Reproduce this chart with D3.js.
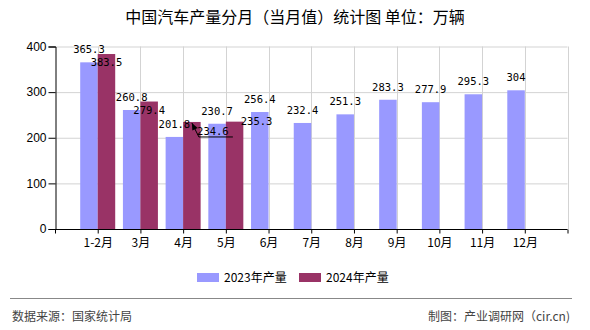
<!DOCTYPE html>
<html><head><meta charset="utf-8">
<script src="https://cdn.jsdelivr.net/npm/d3@7"></script>
<style>body{margin:0;background:#fff}</style>
</head><body>
<svg id="c" width="590" height="330"></svg>
<script>
const categories = ["1-2月","3月","4月","5月","6月","7月","8月","9月","10月","11月","12月"];
const values2023 = [365.3,260.8,201.8,230.7,256.4,232.4,251.3,283.3,277.9,295.3,304];
const values2024 = [383.5,279.4,234.6,235.3];
const yTicks = [0,100,200,300,400];
const seriesNames = ["2023年产量","2024年产量"];

const colors = ["#9999ff","#993366"];
// label layout offsets for 2024 series [dx, dy from bar top to baseline]
const label2024Offsets = [[0,12],[0,12],[21,13],[22,3]];

const svg = d3.select("#c");
const cjk = "'Noto Sans CJK SC','Noto Sans',sans-serif";
const mono = "'DejaVu Sans Mono','Liberation Mono',monospace";

const x = d3.scaleLinear().domain([0,12]).range([55,567.5]);
const y = d3.scaleLinear().domain([0,400]).range([229,46.5]);
const bw = 17.5;

// title
svg.append("text").attr("x",295).attr("y",23).attr("text-anchor","middle")
  .attr("font-family",cjk).attr("font-size",16).attr("fill","#000").text("中国汽车产量分月（当月值）统计图 单位：万辆");

// horizontal grid
svg.append("g").selectAll("line").data(yTicks.filter(d=>d>0)).join("line")
  .attr("x1",x(0)).attr("x2",x(12)).attr("y1",d=>y(d)+0.5).attr("y2",d=>y(d)+0.5)
  .attr("stroke","#d3d3d3");
// vertical grid
svg.append("g").selectAll("line").data(d3.range(1,13)).join("line")
  .attr("x1",d=>Math.round(x(d))+0.5).attr("x2",d=>Math.round(x(d))+0.5).attr("y1",y(400)).attr("y2",y(0))
  .attr("stroke","#d3d3d3");

// bars
svg.append("g").selectAll("rect").data(values2023).join("rect")
  .attr("x",(d,i)=>x(i+1)-bw).attr("width",bw)
  .attr("y",d=>y(d)).attr("height",d=>y(0)-y(d)).attr("fill",colors[0]);
svg.append("g").selectAll("rect").data(values2024).join("rect")
  .attr("x",(d,i)=>x(i+1)).attr("width",bw)
  .attr("y",d=>y(d)).attr("height",d=>y(0)-y(d)).attr("fill",colors[1]);

// axes
const yAxis = d3.axisLeft(y).tickValues(yTicks).tickSize(7).tickPadding(2).tickFormat(d3.format("d"));
const gy = svg.append("g").attr("transform",`translate(${x(0)+0.5},0)`).call(yAxis);
gy.selectAll("text").attr("font-family","'Liberation Sans',Arial,sans-serif").attr("font-size",12).attr("fill","#000");
gy.selectAll("line,path").attr("stroke","#000");

const xAxis = d3.axisBottom(x).tickValues(d3.range(0,13)).tickSize(4).tickPadding(5)
  .tickFormat(d=> (d>=1 && d<=categories.length) ? categories[d-1] : "");
const gx = svg.append("g").attr("transform",`translate(0,${y(0)+0.5})`).call(xAxis);
gx.select(".domain").attr("d",`M${x(0)},0H${x(12)}`);
gx.selectAll("text").attr("font-family",cjk).attr("font-size",12).attr("fill","#000");
gx.selectAll("line,path").attr("stroke","#000");

// data labels
svg.append("g").selectAll("text").data(values2023).join("text")
  .attr("x",(d,i)=>x(i+1)-bw/2).attr("y",d=>y(d)-9).attr("text-anchor","middle")
  .attr("font-family",mono).attr("font-size",10.5).attr("fill","#000").text(d=>d);
svg.append("g").selectAll("text").data(values2024).join("text")
  .attr("x",(d,i)=>x(i+1)+bw/2+label2024Offsets[i][0]).attr("y",(d,i)=>y(d)+label2024Offsets[i][1]).attr("text-anchor","middle")
  .attr("font-family",mono).attr("font-size",10.5).attr("fill","#000").text(d=>d);

// leader line for the 4月 2024 label
{
  const i = 2, d = values2024[i];
  const bx = x(i+1)+bw/2, by = y(d)+1;
  const lx = bx+21-14, ly = y(d)+15;
  svg.append("path").attr("d",`M${bx},${by}L${lx},${ly}H${lx+34}`).attr("fill","none").attr("stroke","#000").attr("stroke-width",1);
  const ang = Math.atan2(ly-by, lx-bx);
  const L=7, W=3;
  const p1=[bx+L*Math.cos(ang)-W*Math.sin(ang), by+L*Math.sin(ang)+W*Math.cos(ang)];
  const p2=[bx+L*Math.cos(ang)+W*Math.sin(ang), by+L*Math.sin(ang)-W*Math.cos(ang)];
  svg.append("path").attr("d",`M${bx},${by}L${p1}L${p2}Z`).attr("fill","#000");
}

// legend
const leg = svg.append("g");
const legX = [197,299];
seriesNames.forEach((n,i)=>{
  leg.append("rect").attr("x",legX[i]).attr("y",273).attr("width",22).attr("height",9).attr("fill",colors[i]);
  leg.append("text").attr("x",legX[i]+27).attr("y",282).attr("font-family",cjk).attr("font-size",12).attr("fill","#000").text(n);
});

// footer
svg.append("line").attr("x1",10).attr("x2",572).attr("y1",298.5).attr("y2",298.5).attr("stroke","#888").attr("stroke-width",1);
svg.append("text").attr("x",12).attr("y",321).attr("font-family",cjk).attr("font-size",12).attr("fill","#444").text("数据来源：国家统计局");
svg.append("text").attr("x",570).attr("y",321).attr("text-anchor","end").attr("font-family",cjk).attr("font-size",12).attr("fill","#444").text("制图：产业调研网（cir.cn)");
</script>
</body></html>
